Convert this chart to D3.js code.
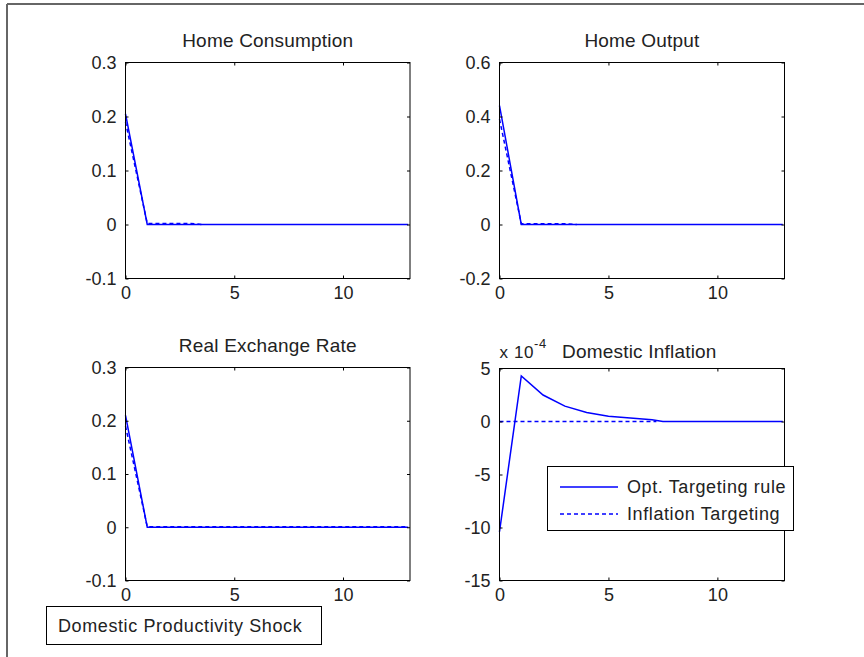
<!DOCTYPE html>
<html>
<head>
<meta charset="utf-8">
<script src="https://cdn.jsdelivr.net/npm/d3@7"></script>
<style>
  body { margin: 0; background: #fff; }
  text { font-family: Arial, "Liberation Sans", sans-serif; fill: #222; }
</style>
</head>
<body>
<script>
// horizon (quarters)
const periods = d3.range(0, 14);

// Home Consumption
const consOpt   = [0.205, 0.0, 0, 0, 0, 0, 0, 0, 0, 0, 0, 0, 0, 0];
const consInfl  = [0.19, 0.002, 0.002, 0.002, 0.0];
const consInflT = [0, 1, 2, 3, 3.55];

// Home Output
const outOpt   = [0.44, 0.0, 0, 0, 0, 0, 0, 0, 0, 0, 0, 0, 0, 0];
const outInfl  = [0.39, 0.003, 0.003, 0.003, 0.0];
const outInflT = [0, 1, 2, 3, 3.55];

// Real Exchange Rate
const rerOpt  = [0.21, 0.0, 0, 0, 0, 0, 0, 0, 0, 0, 0, 0, 0, 0];
const rerInfl = [0.19, 0.001, 0.001, 0.001, 0.001, 0.001, 0.001, 0.001, 0.001, 0.001, 0.001, 0.001, 0.001, 0.001];

// Domestic Inflation (x 1e-4)
const inflOpt   = [-10.4, 4.3, 2.5, 1.45, 0.85, 0.5, 0.32, 0.17, 0.0, 0, 0, 0, 0, 0, 0];
const inflOptT  = [0, 1, 2, 3, 4, 5, 6, 7, 7.5, 8, 9, 10, 11, 12, 13];
const inflInfl  = [0, 0, 0, 0, 0, 0, 0, 0];
const inflInflT = [0, 1, 2, 3, 4, 5, 6, 7.2];

const xTicks = [0, 5, 10];
const legendLabels = ["Opt. Targeting rule", "Inflation Targeting"];

const W = 864, H = 657;
const FS = "18px", LS = "0px";
const svg = d3.select("body").append("svg")
  .attr("width", W).attr("height", H);

// window frame edges
svg.append("line").attr("x1", 7).attr("x2", 7).attr("y1", 4).attr("y2", H)
  .attr("stroke", "#666").attr("stroke-width", 2);
svg.append("line").attr("x1", 7).attr("x2", W).attr("y1", 4).attr("y2", 4)
  .attr("stroke", "#666").attr("stroke-width", 2);

// MATLAB style labels: plain hyphen for minus
const fmt = d => String(d).replace("\u2212", "-");

const panels = [
  { title: "Home Consumption", x0: 125.5, x1: 410, y0: 62.5, y1: 278.5,
    yDomain: [-0.1, 0.3], yTicks: [-0.1, 0, 0.1, 0.2, 0.3],
    solid: { t: periods, v: consOpt }, dashed: { t: consInflT, v: consInfl } },
  { title: "Home Output", x0: 499.5, x1: 784.5, y0: 62.5, y1: 278.5,
    yDomain: [-0.2, 0.6], yTicks: [-0.2, 0, 0.2, 0.4, 0.6],
    solid: { t: periods, v: outOpt }, dashed: { t: outInflT, v: outInfl } },
  { title: "Real Exchange Rate", x0: 125.5, x1: 410, y0: 367.5, y1: 580.5,
    yDomain: [-0.1, 0.3], yTicks: [-0.1, 0, 0.1, 0.2, 0.3],
    solid: { t: periods, v: rerOpt }, dashed: { t: periods, v: rerInfl } },
  { title: "Domestic Inflation", x0: 499.5, x1: 784.5, y0: 368.5, y1: 580.5,
    yDomain: [-15, 5], yTicks: [-15, -10, -5, 0, 5],
    solid: { t: inflOptT, v: inflOpt }, dashed: { t: inflInflT, v: inflInfl },
    exponent: true, legend: true }
];

panels.forEach(p => {
  const x = d3.scaleLinear().domain([0, 13.08]).range([p.x0, p.x1]);
  const y = d3.scaleLinear().domain(p.yDomain).range([p.y1, p.y0]);
  const g = svg.append("g");

  // lines
  const line = d3.line().x(d => x(d[0])).y(d => y(d[1]));
  g.append("path")
    .attr("d", line(p.solid.t.map((t, i) => [t, p.solid.v[i]])))
    .attr("fill", "none").attr("stroke", "#0000ff").attr("stroke-width", 1.5);
  g.append("path")
    .attr("d", line(p.dashed.t.map((t, i) => [t, p.dashed.v[i]])))
    .attr("fill", "none").attr("stroke", "#0000ff").attr("stroke-width", 1.5)
    .attr("stroke-dasharray", "4,3");

  // box
  g.append("rect").attr("x", p.x0).attr("y", p.y0)
    .attr("width", p.x1 - p.x0).attr("height", p.y1 - p.y0)
    .attr("fill", "none").attr("stroke", "#000").attr("stroke-width", 1);

  // axes with inward ticks
  const axB = g.append("g").attr("transform", `translate(0,${p.y1})`)
    .call(d3.axisBottom(x).tickValues(xTicks).tickSizeInner(-3).tickSizeOuter(0).tickPadding(8));
  const axT = g.append("g").attr("transform", `translate(0,${p.y0})`)
    .call(d3.axisTop(x).tickValues(xTicks).tickSizeInner(-3).tickSizeOuter(0).tickFormat(""));
  const axL = g.append("g").attr("transform", `translate(${p.x0},0)`)
    .call(d3.axisLeft(y).tickValues(p.yTicks).tickSizeInner(-3).tickSizeOuter(0)
      .tickPadding(9).tickFormat(fmt));
  const axR = g.append("g").attr("transform", `translate(${p.x1},0)`)
    .call(d3.axisRight(y).tickValues(p.yTicks).tickSizeInner(-3).tickSizeOuter(0).tickFormat(""));
  [axB, axT, axL, axR].forEach(a => {
    a.select(".domain").remove();
    a.selectAll("line").attr("stroke", "#000");
    a.selectAll("text").style("font-size", FS).style("letter-spacing", LS)
      .style("font-family", "Arial, 'Liberation Sans', sans-serif").attr("fill", "#222");
  });
  axB.selectAll("text").attr("dy", "0.71em");

  // title
  const cx = (p.x0 + p.x1) / 2;
  if (p.exponent) {
    const ex = g.append("text").attr("x", p.x0).attr("y", p.y0 - 11)
      .style("font-size", "17px").style("letter-spacing", "0.6px");
    ex.append("tspan").text("x 10");
    ex.append("tspan").attr("dy", -10).style("font-size", "13px").text("-4");
    g.append("text").attr("x", 562).attr("y", p.y0 - 11)
      .style("font-size", "19px").style("letter-spacing", "0.2px").text(p.title);
  } else {
    g.append("text").attr("x", cx).attr("y", p.y0 - 16)
      .attr("text-anchor", "middle").style("font-size", "19px")
      .style("letter-spacing", "0.2px").text(p.title);
  }

  if (p.legend) {
    const lg = g.append("g");
    lg.append("rect").attr("x", 547.5).attr("y", 466.5).attr("width", 246).attr("height", 64)
      .attr("fill", "#fff").attr("stroke", "#000").attr("stroke-width", 1);
    legendLabels.forEach((lab, i) => {
      const ly = 487 + i * 27;
      lg.append("line").attr("x1", 560).attr("x2", 618).attr("y1", ly).attr("y2", ly)
        .attr("stroke", "#0000ff").attr("stroke-width", 1.5)
        .attr("stroke-dasharray", i === 1 ? "4,3" : null);
      lg.append("text").attr("x", 627).attr("y", ly + 6)
        .style("font-size", "18px").style("letter-spacing", "0.6px").text(lab);
    });
  }
});

// annotation box
svg.append("rect").attr("x", 46.5).attr("y", 606.5).attr("width", 275).attr("height", 38)
  .attr("fill", "#fff").attr("stroke", "#000").attr("stroke-width", 1);
svg.append("text").attr("x", 58).attr("y", 632)
  .style("font-size", "18px").style("letter-spacing", "0.6px").text("Domestic Productivity Shock");
</script>
</body>
</html>
